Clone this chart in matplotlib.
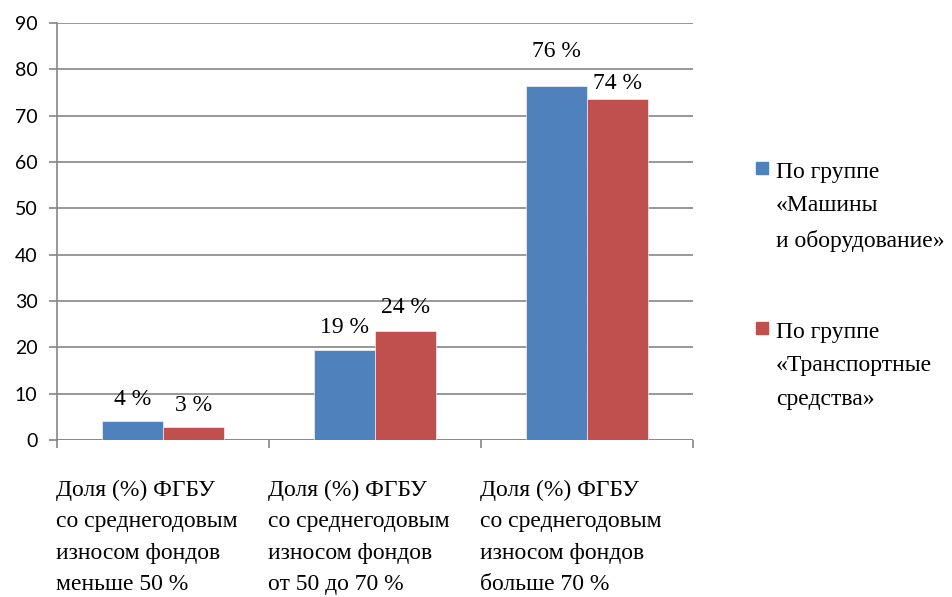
import matplotlib
matplotlib.use('Agg')
import matplotlib.pyplot as plt
from matplotlib.patches import Rectangle
from matplotlib import font_manager
import numpy as np

categories = ['Доля (%) ФГБУ\nсо среднегодовым\nизносом фондов\nменьше 50 %',
              'Доля (%) ФГБУ\nсо среднегодовым\nизносом фондов\nот 50 до 70 %',
              'Доля (%) ФГБУ\nсо среднегодовым\nизносом фондов\nбольше 70 %']
series_names = ['По группе\n«Машины\nи оборудование»',
                'По группе\n«Транспортные\nсредства»']
machines = [4.1, 19.4, 76.4]
transport = [2.8, 23.5, 73.6]
machines_labels = ['4 %', '19 %', '76 %']
transport_labels = ['3 %', '24 %', '74 %']
y_ticks = [0, 10, 20, 30, 40, 50, 60, 70, 80, 90]

colors = ['#4F81BD', '#C0504D']
grid_color = '#868686'
plt.rcParams['font.serif'] = ['Liberation Serif', 'Times New Roman', 'DejaVu Serif']
serif = 'serif'
sans = 'Lato'
print(font_manager.findfont('Liberation Serif'))

fig = plt.figure(figsize=(9.52, 5.97), dpi=100)
W, H = 952, 597
ax = fig.add_axes([57 / W, 1 - 440 / H, (693 - 57) / W, (440 - 23) / H])

x = np.arange(len(categories))
w = 0.287
b1 = ax.bar(x - w / 2, machines, w, color=colors[0], edgecolor='white', linewidth=0.4, zorder=3)
b2 = ax.bar(x + w / 2, transport, w, color=colors[1], edgecolor='white', linewidth=0.4, zorder=3)

# label offsets in points (some labels were nudged in the original)
off1 = [11.5, 12, 21]
off2 = [11.5, 13, 7]
for bars, labels, offs in [(b1, machines_labels, off1), (b2, transport_labels, off2)]:
    for bar, lab, o in zip(bars, labels, offs):
        ax.annotate(lab, (bar.get_x() + bar.get_width() / 2, bar.get_height()),
                    xytext=(0, o), textcoords='offset points', ha='center', va='baseline',
                    fontsize=17, family=serif, zorder=4)

ax.set_xlim(-0.5, 2.5)
ax.set_ylim(0, 90)
ax.set_yticks(y_ticks)
ax.yaxis.grid(True, color=grid_color, linewidth=1.2, zorder=0)
for s in ['top', 'right', 'bottom']:
    ax.spines[s].set_visible(False)
ax.spines['left'].set_color(grid_color)
ax.spines['left'].set_linewidth(1.2)
ax.axhline(0, color=grid_color, linewidth=1.2, zorder=2)
ax.tick_params(axis='y', length=6, width=1.2, color=grid_color, pad=8, labelsize=14)
for t in ax.get_yticklabels():
    t.set_family(sans)
ax.set_xticks(np.arange(-0.5, 3, 1))
ax.set_xticklabels([])
ax.tick_params(axis='x', length=6, width=1.2, color=grid_color)

for i, cat in enumerate(categories):
    ax.text(i - 0.075, -0.095, cat, transform=ax.get_xaxis_transform(), ha='center', va='top',
            multialignment='left', fontsize=17, family=serif, linespacing=1.66)

# legend drawn by hand
leg_y = [163, 323]
for name, c, yy in zip(series_names, colors, leg_y):
    fig.patches.append(Rectangle((756 / W, 1 - (yy + 11) / H), 12 / W, 12 / H,
                                 transform=fig.transFigure, color=c))
    fig.text(776 / W, 1 - (yy - 1) / H, name, ha='left', va='top', fontsize=17,
             family=serif, linespacing=1.78)

fig.savefig('out.png', dpi=100, facecolor='white')
